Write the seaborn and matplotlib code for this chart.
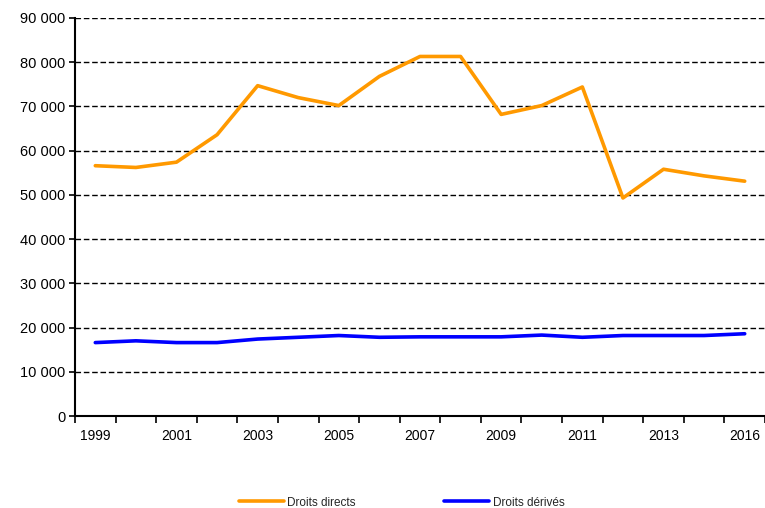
import numpy as np
import pandas as pd
import matplotlib
matplotlib.use("Agg")
import matplotlib.pyplot as plt
import seaborn as sns
from matplotlib.ticker import FuncFormatter, FixedLocator

# Data (2015 is not in the series)
years = ["1999", "2000", "2001", "2002", "2003", "2004", "2005", "2006", "2007",
         "2008", "2009", "2010", "2011", "2012", "2013", "2014", "2016"]
directs = [56600, 56200, 57400, 63600, 74700, 72000, 70200, 76800, 81300,
           81300, 68200, 70200, 74400, 49300, 55800, 54300, 53100]
derives = [16600, 17000, 16600, 16600, 17400, 17800, 18200, 17800, 17900,
           17900, 17900, 18300, 17800, 18200, 18200, 18200, 18600]

sns.set_style("white")
plt.rcParams["font.family"] = ["Liberation Sans", "DejaVu Sans"]

n = len(years)
df = pd.DataFrame({
    "pos": list(range(n)) * 2,
    "valeur": directs + derives,
    "serie": ["Droits directs"] * n + ["Droits dérivés"] * n,
})

fig = plt.figure(figsize=(7.65, 5.08), dpi=100)
ax = fig.add_axes([75 / 765, 1 - 416 / 508, 1 - 75 / 765, (416 - 18) / 508])

sns.lineplot(data=df, x="pos", y="valeur", hue="serie",
             palette={"Droits directs": "#FF9900", "Droits dérivés": "#0000FF"},
             linewidth=2.6, ax=ax, legend=True)

ax.set_xlim(-0.5, n - 0.5)
ax.set_ylim(0, 90000)
ax.set_yticks(np.arange(0, 90001, 10000))
ax.yaxis.set_major_formatter(FuncFormatter(lambda v, p: f"{int(v):,}".replace(",", " ")))

# labels at category centres, tick marks at category boundaries
ax.set_xticks(range(n))
ax.set_xticklabels([y if i % 2 == 0 else "" for i, y in enumerate(years)])
ax.xaxis.set_minor_locator(FixedLocator(np.arange(-0.5, n, 1)))
ax.tick_params(axis="x", which="major", length=0, labelsize=10, pad=9, colors="black")
ax.tick_params(axis="x", which="minor", bottom=True, length=5, width=1.2,
               direction="out", color="black")
ax.tick_params(axis="y", length=4, width=1.2, direction="out", labelsize=10.5, pad=3,
               colors="black", left=True)

ax.set_xlabel("")
ax.set_ylabel("")

ax.yaxis.grid(True, color="black", linestyle=(0, (4, 2)), linewidth=1)
ax.set_axisbelow(True)
for side in ["top", "right"]:
    ax.spines[side].set_visible(False)
for side in ["left", "bottom"]:
    ax.spines[side].set_color("black")
    ax.spines[side].set_linewidth(1.5)

handles, labels = ax.get_legend_handles_labels()
ax.get_legend().remove()
fig.legend(handles, labels, loc="lower center", bbox_to_anchor=(0.525, -0.022),
           ncol=2, frameon=False, fontsize=8.5, handlelength=3.8,
           handletextpad=0.3, columnspacing=7.5)

fig.savefig("out.png", dpi=100)
